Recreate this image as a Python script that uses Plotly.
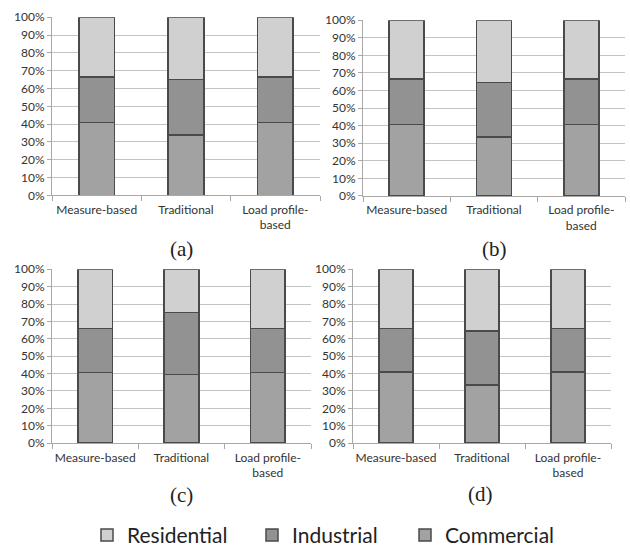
import plotly.graph_objects as go

# Categories on every panel
categories = ["Measure-based", "Traditional", "Load profile-<br>based"]
panel_labels = ["(a)", "(b)", "(c)", "(d)"]

# Shares (%) per panel: Commercial (bottom), Industrial (middle), Residential (top)
commercial_a = [41.0, 34.0, 41.0]
industrial_a = [25.5, 31.0, 25.5]
residential_a = [33.5, 35.0, 33.5]

commercial_b = [40.5, 33.5, 40.5]
industrial_b = [26.0, 31.0, 26.0]
residential_b = [33.5, 35.5, 33.5]

commercial_c = [40.5, 39.5, 40.5]
industrial_c = [25.5, 35.5, 25.5]
residential_c = [34.0, 25.0, 34.0]

commercial_d = [41.0, 33.5, 41.0]
industrial_d = [25.0, 31.0, 25.0]
residential_d = [34.0, 35.5, 34.0]

panels = [
    (commercial_a, industrial_a, residential_a),
    (commercial_b, industrial_b, residential_b),
    (commercial_c, industrial_c, residential_c),
    (commercial_d, industrial_d, residential_d),
]

W, H = 630, 556

# Plot-area boxes in pixels: (left, right, top, bottom)
boxes = [
    (52, 320, 9.5, 193),
    (363, 625, 12.5, 193.5),
    (52, 311, 269, 448),
    (353, 611, 269, 448),
]
label_pos = [(182, 248), (494, 248), (182, 501), (481, 500)]

series_style = {
    "Commercial": dict(color="#a2a2a2", legend="legend3"),
    "Industrial": dict(color="#929292", legend="legend2"),
    "Residential": dict(color="#d0d0d0", legend="legend"),
}

FONT = "Lato"
fig = go.Figure()

for i, (com, ind, res) in enumerate(panels):
    sfx = "" if i == 0 else str(i + 1)
    for name, vals in (("Commercial", com), ("Industrial", ind), ("Residential", res)):
        st = series_style[name]
        fig.add_trace(go.Bar(
            x=categories, y=vals, name=name,
            xaxis="x" + sfx, yaxis="y" + sfx,
            marker=dict(color=st["color"], line=dict(color="#4a4a4a", width=1.5)),
            legend=st["legend"], showlegend=(i == 0),
            hoverinfo="skip",
        ))

    l, r, t, b = boxes[i]
    xa = dict(
        domain=[l / W, r / W], anchor="y" + sfx,
        type="category", showline=True, linecolor="#a8a8a8", linewidth=1,
        ticks="outside", tickson="boundaries", ticklen=5, tickcolor="#a8a8a8",
        tickangle=0, showgrid=False, ticklabelstandoff=3,
        tickfont=dict(family=FONT, size=12, color="#333333"),
        fixedrange=True,
    )
    ya = dict(
        domain=[1 - b / H, 1 - t / H], anchor="x" + sfx,
        range=[0, 100], dtick=10, ticksuffix="%",
        showline=True, linecolor="#a8a8a8", linewidth=1,
        ticks="outside", ticklen=4, tickcolor="#a8a8a8",
        showgrid=True, gridcolor="#c4c4c4", gridwidth=1.3,
        zeroline=False,
        tickfont=dict(family=FONT, size=12, color="#333333"),
        fixedrange=True,
    )
    fig.update_layout({"xaxis" + sfx: xa, "yaxis" + sfx: ya})

    lx, ly = label_pos[i]
    fig.add_annotation(
        x=lx / W, y=1 - ly / H, xref="paper", yref="paper",
        text=panel_labels[i], showarrow=False,
        font=dict(family="Liberation Serif", size=21, color="#222222"),
        xanchor="center", yanchor="middle",
    )

legend_common = dict(
    orientation="h", yanchor="middle", xanchor="left",
    font=dict(family=FONT, size=21, color="#222222"),
    bgcolor="rgba(0,0,0,0)", itemwidth=30,
)
legend_y = 1 - 543 / H
fig.update_layout(
    legend=dict(x=87 / W, y=legend_y, **legend_common),
    legend2=dict(x=252 / W, y=legend_y, **legend_common),
    legend3=dict(x=405 / W, y=legend_y, **legend_common),
)

fig.update_layout(
    width=W, height=H,
    margin=dict(l=0, r=0, t=0, b=0),
    barmode="stack", bargap=0.6,
    paper_bgcolor="white", plot_bgcolor="white",
    font=dict(family=FONT),
)

fig.write_html("out.html")
